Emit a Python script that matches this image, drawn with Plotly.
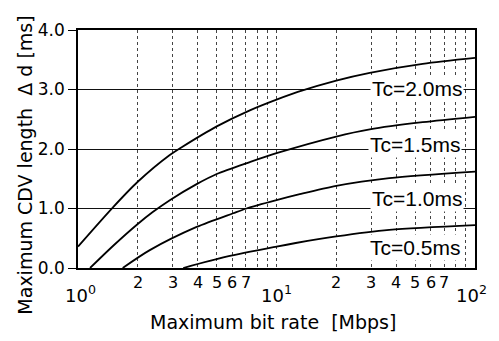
import numpy as np
import plotly.graph_objects as go

# ---- data ----
tc20_x = [1, 1.5, 2.0, 2.9, 3.33, 5, 7.34, 10, 12.8, 20, 29.5, 54.5, 100]
tc20_y = [0.36, 1.02, 1.45, 1.90, 2.03, 2.38, 2.65, 2.83, 2.96, 3.15, 3.28, 3.43, 3.53]

tc15_x = [1.15, 1.5, 2.0, 2.38, 2.9, 3.96, 5, 7.34, 10, 20, 29.5, 54.5, 100]
tc15_y = [0.0, 0.37, 0.74, 0.94, 1.14, 1.41, 1.58, 1.78, 1.93, 2.21, 2.33, 2.45, 2.54]

tc10_x = [1.68, 2.3, 3.96, 6.05, 7.06, 10, 13.1, 20, 37, 100]
tc10_y = [0.0, 0.30, 0.69, 0.92, 1.0, 1.14, 1.24, 1.38, 1.51, 1.62]

tc05_x = [3.39, 5.6, 10, 12.5, 20, 37, 100]
tc05_y = [0.0, 0.19, 0.36, 0.42, 0.53, 0.64, 0.72]

series = [
    ("Tc=2.0ms", tc20_x, tc20_y),
    ("Tc=1.5ms", tc15_x, tc15_y),
    ("Tc=1.0ms", tc10_x, tc10_y),
    ("Tc=0.5ms", tc05_x, tc05_y),
]

y_ticks = [0, 1, 2, 3, 4]
y_ticktext = ["0.0", "1.0", "2.0", "3.0", "4.0"]
x_grid = [2, 3, 4, 5, 6, 7, 8, 9, 10, 20, 30, 40, 50, 60, 70, 80, 90]
minor_labels = [2, 3, 4, 5, 6, 7, 20, 30, 40, 50, 60, 70]
decade_labels = [(1, "10<sup>0</sup>", 2), (10, "10<sup>1</sup>", 0), (100, "10<sup>2</sup>", -4)]
label_pos = [(0.854, 0.756), (0.849, 0.517), (0.854, 0.294), (0.849, 0.088)]

fig = go.Figure()
for name, xs, ys in series:
    fig.add_trace(go.Scatter(x=xs, y=ys, mode="lines", name=name,
                             line=dict(color="black", width=1.8, shape="spline", smoothing=0.8),
                             showlegend=False, hoverinfo="skip"))

ann = []
for (name, _, _), (px, py) in zip(series, label_pos):
    ann.append(dict(text=name, x=px, y=py, xref="paper", yref="paper",
                    xanchor="center", yanchor="middle", showarrow=False,
                    bgcolor="white", borderpad=1,
                    font=dict(family="Liberation Sans", size=21, color="black")))
for v in minor_labels:
    ann.append(dict(text=str(v // 10 if v >= 10 else v), x=np.log10(v), y=-0.063,
                    xref="x", yref="paper", xanchor="center", yanchor="middle",
                    showarrow=False,
                    font=dict(family="DejaVu Sans", size=16, color="black")))
for v, t, dx in decade_labels:
    ann.append(dict(text=t, x=np.log10(v), y=-0.11, xref="x", yref="paper",
                    xanchor="center", yanchor="middle", showarrow=False, xshift=dx,
                    font=dict(family="DejaVu Sans", size=18, color="black")))
ann.append(dict(text="Maximum bit rate  [Mbps]", x=0.49, y=-0.227, xref="paper", yref="paper",
                xanchor="center", yanchor="middle", showarrow=False,
                font=dict(family="DejaVu Sans", size=19, color="black")))
ann.append(dict(text="Maximum CDV length  Δ d [ms]", x=-0.1335, y=0.43, xref="paper",
                yref="paper", xanchor="center", yanchor="middle", showarrow=False,
                textangle=-90,
                font=dict(family="DejaVu Sans", size=19, color="black")))

# the page body has an 8px default margin, so the figure is sized to fit the window
fig.update_layout(
    width=491, height=333,
    margin=dict(l=70, r=24, t=22, b=73, autoexpand=False),
    paper_bgcolor="white", plot_bgcolor="white",
    annotations=ann,
    xaxis=dict(type="log", range=[0, 2], tickvals=x_grid, showticklabels=False,
               ticks="", showgrid=True, gridcolor="#444", griddash="dot", gridwidth=1,
               showline=True, linecolor="black", linewidth=1.5, mirror=True,
               zeroline=False, fixedrange=True),
    yaxis=dict(range=[0, 4], tickvals=y_ticks, ticktext=y_ticktext,
               ticks="outside", ticklen=8, tickcolor="black", tickwidth=1.2,
               showgrid=True, gridcolor="#111", gridwidth=1.2,
               tickfont=dict(family="DejaVu Sans", size=17, color="black"),
               showline=True, linecolor="black", linewidth=1.5, mirror=True,
               zeroline=False, fixedrange=True),
)

fig.write_html("out.html")
